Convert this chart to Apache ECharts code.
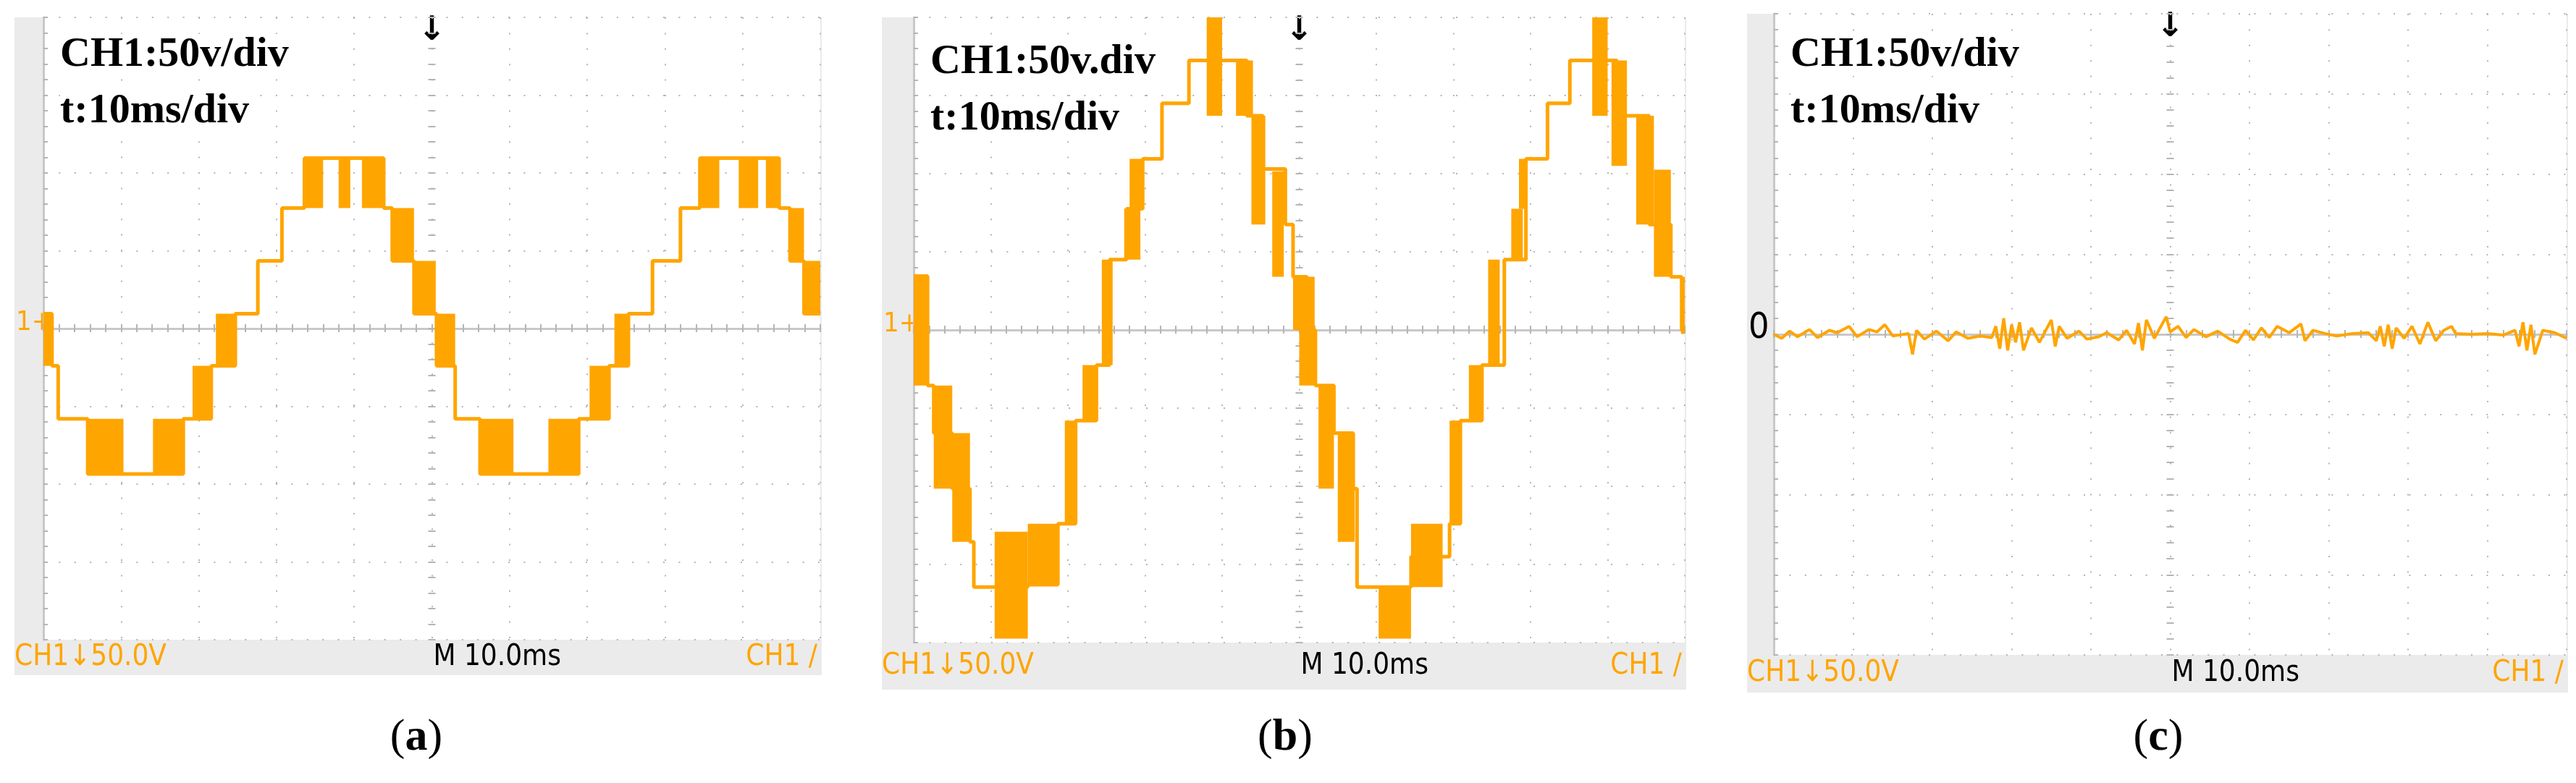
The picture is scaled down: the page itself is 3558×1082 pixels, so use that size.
<!DOCTYPE html>
<html>
<head>
<meta charset="utf-8">
<script src="https://cdn.jsdelivr.net/npm/echarts@6/dist/echarts.min.js"></script>
<style>
  html, body { margin: 0; padding: 0; background: #fff; }
  #main { width: 3558px; height: 1082px; }
</style>
</head>
<body>
<div id="main"></div>
<script>
// x in divisions (10 ms/div), y in divisions (50 V/div)
var stepA = [[0,0.19],[0.11,-0.48],[0.19,-1.16],[0.57,-1.87],[1.8,-1.16],[2.16,-0.48],[2.47,0.19],[2.76,0.87],[3.07,1.55],[3.36,2.19],[4.38,1.55],[4.49,0.87],[4.77,0.19],[5.06,-0.48],[5.3,-1.16],[5.62,-1.87],[6.89,-1.16],[7.28,-0.48],[7.53,0.19],[7.84,0.87],[8.2,1.55],[8.45,2.19],[9.47,1.55],[9.61,0.87],[9.79,0.19],[10,0.19]];
// chatter bands: [x0, x1, low, high]
var bandsA = [[0,0.1,-0.48,0.19],[0.57,1.03,-1.87,-1.16],[1.41,1.8,-1.87,-1.16],[1.92,2.16,-1.16,-0.48],[2.22,2.45,-0.48,0.19],[3.36,3.6,1.55,2.19],[3.8,3.95,1.55,2.19],[4.1,4.38,1.55,2.19],[4.49,4.77,0.87,1.55],[4.77,5.05,0.19,0.87],[5.08,5.3,-0.48,0.19],[5.62,6.05,-1.87,-1.16],[6.5,6.89,-1.87,-1.16],[7.03,7.28,-1.16,-0.48],[7.35,7.53,-0.48,0.19],[8.45,8.7,1.55,2.19],[8.95,9.2,1.55,2.19],[9.3,9.47,1.55,2.19],[9.61,9.79,0.87,1.55],[9.79,10,0.19,0.87]];

var stepB = [[0,0.69],[0.18,-0.71],[0.26,-1.32],[0.5,-2.03],[0.73,-2.71],[0.78,-3.29],[1.05,-3.29],[1.48,-3.26],[1.87,-2.48],[2.1,-1.16],[2.37,-0.45],[2.54,0.9],[2.76,1.55],[2.97,2.19],[3.22,2.9],[3.57,3.45],[4.1,3.45],[4.32,2.74],[4.53,2.06],[4.82,1.35],[4.92,0.68],[5.1,0],[5.21,-0.71],[5.45,-1.32],[5.7,-2.03],[5.75,-3.29],[6.45,-2.9],[6.95,-2.48],[7.09,-1.16],[7.37,-0.45],[7.66,0.9],[7.94,2.19],[8.22,2.9],[8.51,3.45],[9.08,3.45],[9.12,2.74],[9.54,1.35],[9.82,0.68],[9.96,0],[10,0]];
var bandsB = [[0,0.18,-0.71,0.69],[0.26,0.5,-2.03,-0.71],[0.5,0.73,-2.71,-1.32],[1.05,1.48,-3.95,-2.58],[1.48,1.87,-3.26,-2.48],[1.96,2.1,-2.48,-1.16],[2.19,2.37,-1.16,-0.45],[2.44,2.58,-0.45,0.9],[2.73,2.94,0.9,1.55],[2.8,2.95,1.55,2.19],[3.8,4.0,2.74,4.0],[4.18,4.4,2.74,3.45],[4.38,4.56,1.35,2.74],[4.65,4.8,0.68,2.03],[4.92,5.05,0,0.68],[5.0,5.2,-0.71,0.68],[5.25,5.45,-2.03,-0.71],[5.5,5.72,-2.71,-1.32],[6.03,6.45,-3.95,-3.29],[6.45,6.86,-3.29,-2.48],[6.95,7.1,-2.48,-1.16],[7.2,7.37,-1.16,-0.45],[7.45,7.6,-0.45,0.9],[7.75,7.9,0.9,1.55],[7.85,7.95,1.55,2.19],[8.8,9.0,2.74,4.0],[9.05,9.25,2.1,3.45],[9.37,9.6,1.35,2.74],[9.6,9.82,0.68,2.05],[9.95,10,-0.05,0.68]];

var noiseC = [[0,0],[0.1,-0.05],[0.2,0.04],[0.3,-0.03],[0.45,0.06],[0.55,-0.04],[0.7,0.05],[0.8,0.02],[0.95,0.1],[1.05,-0.03],[1.2,0.06],[1.3,0.03],[1.4,0.12],[1.5,-0.02],[1.7,0.01],[1.75,-0.25],[1.8,0.05],[1.9,-0.06],[2.05,0.04],[2.2,-0.08],[2.3,0.03],[2.45,-0.05],[2.6,-0.02],[2.75,-0.04],[2.8,0.1],[2.85,-0.18],[2.9,0.2],[2.95,-0.2],[3.0,0.12],[3.05,-0.1],[3.1,0.15],[3.15,-0.2],[3.25,0.08],[3.35,-0.1],[3.5,0.18],[3.55,-0.15],[3.6,0.1],[3.7,-0.05],[3.85,0.04],[3.95,-0.06],[4.1,-0.03],[4.2,0.02],[4.35,-0.07],[4.45,0.05],[4.55,-0.12],[4.6,0.14],[4.65,-0.2],[4.7,0.18],[4.8,-0.05],[4.95,0.22],[5.0,0.03],[5.1,0.1],[5.2,-0.04],[5.3,0.06],[5.45,-0.03],[5.6,0.04],[5.75,-0.06],[5.85,-0.1],[5.95,0.05],[6.05,-0.07],[6.15,0.08],[6.25,-0.04],[6.35,0.1],[6.5,0.02],[6.65,0.13],[6.7,-0.08],[6.8,0.05],[6.95,0.01],[7.1,-0.02],[7.3,0.01],[7.5,0.02],[7.6,-0.08],[7.65,0.1],[7.7,-0.15],[7.75,0.12],[7.8,-0.18],[7.85,0.08],[7.95,-0.05],[8.05,0.1],[8.15,-0.12],[8.25,0.15],[8.35,-0.08],[8.45,0.05],[8.55,0.1],[8.6,0.01],[8.8,0],[9.0,0.01],[9.2,-0.01],[9.35,0.05],[9.4,-0.15],[9.45,0.15],[9.5,-0.2],[9.55,0.12],[9.6,-0.25],[9.7,0.05],[9.85,0.02],[10,-0.05]];

var titlesTop = ['CH1:50v/div', 'CH1:50v.div', 'CH1:50v/div'];
var titleTime = 't:10ms/div';
var captions = ['a', 'b', 'c'];

var ORANGE = '#FFA500';
// panel layout: plot box and grey frame
var panels = [
  {left: 60, top: 24, width: 1073, height: 860, frameL: 20, frameB: 933, capX: 575, tOff: 23, marker: '1+'},
  {left: 1262, top: 24, width: 1065, height: 864, frameL: 1218, frameB: 953, capX: 1775, tOff: 33, marker: '1+'},
  {left: 2450, top: 19, width: 1095, height: 886, frameL: 2413, frameB: 957, capX: 2981, tOff: 28, marker: '0'}
];

var grid = [], xAxis = [], yAxis = [], series = [], graphic = [];
var split = {show: true, lineStyle: {color: '#b5b5b5', width: 2, type: [2, 19.4]}};
var tickStyle = {color: '#b5b5b5', width: 2};

panels.forEach(function (p, i) {
  grid.push({left: p.left, top: p.top, width: p.width, height: p.height});
  var xi = xAxis.length, yi = yAxis.length;
  // main axes
  xAxis.push({gridIndex: i, type: 'value', min: 0, max: 10, interval: 1, axisLabel: {show: false},
    axisLine: {show: true, lineStyle: {color: '#c8c8c8', width: 3}},
    axisTick: {show: true, inside: true, length: 6, lineStyle: tickStyle},
    minorTick: {show: true, splitNumber: 5, length: 6, lineStyle: tickStyle},
    splitLine: split});
  yAxis.push({gridIndex: i, type: 'value', min: -4, max: 4, interval: 1, axisLabel: {show: false},
    axisLine: {show: true, lineStyle: {color: '#c8c8c8', width: 3}},
    axisTick: {show: true, inside: true, length: 6, lineStyle: tickStyle},
    minorTick: {show: true, splitNumber: 5, length: 6, lineStyle: tickStyle},
    splitLine: split});
  // centre cross tick marks
  [true, false].forEach(function (ins) {
    xAxis.push({gridIndex: i, type: 'value', min: 0, max: 10, interval: 1, position: 'bottom',
      offset: -p.height / 2, axisLabel: {show: false}, axisLine: {show: false}, splitLine: {show: false},
      axisTick: {show: true, inside: ins, length: 5, lineStyle: tickStyle},
      minorTick: {show: true, splitNumber: 5, length: 5, lineStyle: tickStyle}});
    yAxis.push({gridIndex: i, type: 'value', min: -4, max: 4, interval: 1, position: 'left',
      offset: -p.width / 2, axisLabel: {show: false}, axisLine: {show: false}, splitLine: {show: false},
      axisTick: {show: true, inside: ins, length: 5, lineStyle: tickStyle},
      minorTick: {show: true, splitNumber: 5, length: 5, lineStyle: tickStyle}});
  });

  // grey frame behind the plot
  graphic.push({type: 'rect', z: -10, shape: {x: p.frameL, y: p.top, width: p.left + p.width + 2 - p.frameL, height: p.frameB - p.top}, style: {fill: '#ebebeb'}});
  graphic.push({type: 'rect', z: -9, shape: {x: p.left, y: p.top, width: p.width, height: p.height}, style: {fill: '#fff'}});

  var tx = p.left + 23;
  graphic.push({type: 'text', z: 50, x: tx, y: p.top + p.tOff, style: {text: titlesTop[i], font: 'bold 58px "Liberation Serif"', fill: '#000', backgroundColor: '#fff'}});
  graphic.push({type: 'text', z: 50, x: tx, y: p.top + p.tOff + 78, style: {text: titleTime, font: 'bold 58px "Liberation Serif"', fill: '#000', backgroundColor: '#fff'}});

  var cy = (p.top + p.height + p.frameB) / 2;
  var lab = '40px "DejaVu Sans Condensed", "Liberation Sans"';
  graphic.push({type: 'text', x: p.frameL, y: cy, style: {text: 'CH1\u219350.0V', font: lab, fill: ORANGE, verticalAlign: 'middle'}});
  graphic.push({type: 'text', x: p.left + p.width / 2 + 2, y: cy, style: {text: 'M 10.0ms', font: lab, fill: '#000', verticalAlign: 'middle'}});
  graphic.push({type: 'text', x: p.left + p.width - 4, y: cy, style: {text: 'CH1 \u2215', font: lab, fill: ORANGE, align: 'right', verticalAlign: 'middle'}});
  graphic.push({type: 'text', x: p.left + p.width / 2, y: p.top - 4, style: {text: '\u2193', font: 'bold 46px "DejaVu Sans"', fill: '#000', align: 'center'}});
  graphic.push({type: 'text', x: p.frameL + 2, y: p.top + p.height / 2 - 8, style: {text: p.marker, font: i === 2 ? '50px "DejaVu Sans Condensed"' : '38px "DejaVu Sans Condensed"', fill: i === 2 ? '#000' : ORANGE, verticalAlign: 'middle'}});
  graphic.push({type: 'text', x: p.capX, y: 1020, style: {
    text: '({b|' + captions[i] + '})', font: '62px "Liberation Serif"', fill: '#000', align: 'center', verticalAlign: 'middle',
    rich: {b: {font: 'bold 62px "Liberation Serif"'}}}});

  function bandSeries(bands) {
    return {type: 'custom', xAxisIndex: xi, yAxisIndex: yi, clip: true, data: bands,
      renderItem: function (params, api) {
        var a = api.coord([api.value(0), api.value(3)]);
        var b = api.coord([api.value(1), api.value(2)]);
        return {type: 'rect', shape: {x: a[0], y: a[1], width: Math.max(b[0] - a[0], 2), height: b[1] - a[1]}, style: {fill: ORANGE}};
      }};
  }
  if (i === 0) {
    series.push(bandSeries(bandsA));
    series.push({type: 'line', xAxisIndex: xi, yAxisIndex: yi, data: stepA, step: 'end', showSymbol: false, lineStyle: {color: ORANGE, width: 5}});
  } else if (i === 1) {
    series.push(bandSeries(bandsB));
    series.push({type: 'line', xAxisIndex: xi, yAxisIndex: yi, data: stepB, step: 'end', showSymbol: false, lineStyle: {color: ORANGE, width: 5}});
  } else {
    series.push({type: 'line', xAxisIndex: xi, yAxisIndex: yi, data: noiseC, showSymbol: false, lineStyle: {color: ORANGE, width: 4}});
  }
});

var chart = echarts.init(document.getElementById('main'));
chart.setOption({animation: false, backgroundColor: '#fff', grid: grid, xAxis: xAxis, yAxis: yAxis, series: series, graphic: graphic});
</script>
</body>
</html>
